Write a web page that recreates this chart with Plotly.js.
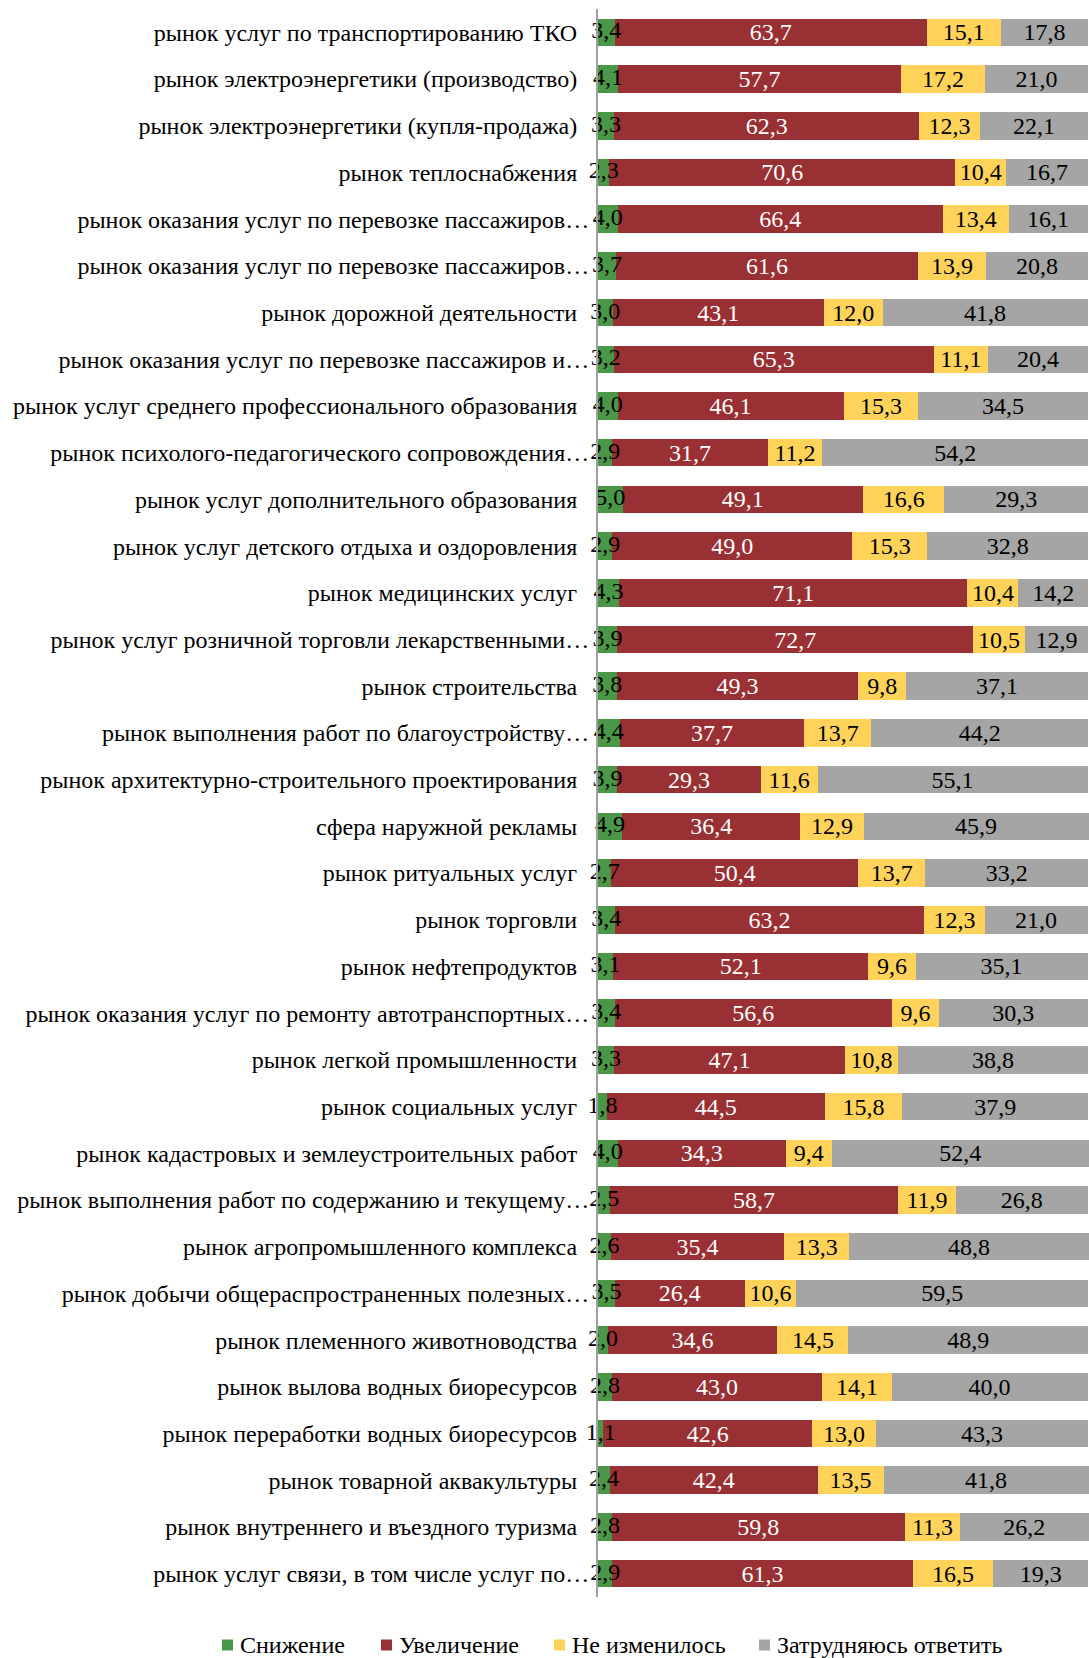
<!DOCTYPE html>
<html>
<head>
<meta charset="utf-8">
<script src="https://cdn.plot.ly/plotly-3.0.1.min.js"></script>
<style>
  html, body { margin: 0; padding: 0; background: #ffffff; }
  #chart { width: 1089px; height: 1658px; }
</style>
</head>
<body>
<div id="chart"></div>
<script>
// Categories, top to bottom ("…" marks labels truncated in the original)
const categories = [
  "рынок услуг по транспортированию ТКО",
  "рынок электроэнергетики (производство)",
  "рынок электроэнергетики (купля-продажа)",
  "рынок теплоснабжения",
  "рынок оказания услуг по перевозке пассажиров…",
  "рынок оказания услуг по перевозке пассажиров…",
  "рынок дорожной деятельности",
  "рынок оказания услуг по перевозке пассажиров и…",
  "рынок услуг среднего профессионального образования",
  "рынок психолого-педагогического сопровождения…",
  "рынок услуг дополнительного образования",
  "рынок услуг детского отдыха и оздоровления",
  "рынок медицинских услуг",
  "рынок услуг розничной торговли лекарственными…",
  "рынок строительства",
  "рынок выполнения работ по благоустройству…",
  "рынок архитектурно-строительного проектирования",
  "сфера наружной рекламы",
  "рынок ритуальных услуг",
  "рынок торговли",
  "рынок нефтепродуктов",
  "рынок оказания услуг по ремонту автотранспортных…",
  "рынок легкой промышленности",
  "рынок социальных услуг",
  "рынок кадастровых и землеустроительных работ",
  "рынок выполнения работ по содержанию и текущему…",
  "рынок агропромышленного комплекса",
  "рынок добычи общераспространенных полезных…",
  "рынок племенного животноводства",
  "рынок вылова водных биоресурсов",
  "рынок переработки водных биоресурсов",
  "рынок товарной аквакультуры",
  "рынок внутреннего и въездного туризма",
  "рынок услуг связи, в том числе услуг по…"
];

const decrease = [3.4, 4.1, 3.3, 2.3, 4.0, 3.7, 3.0, 3.2, 4.0, 2.9, 5.0, 2.9, 4.3, 3.9, 3.8, 4.4, 3.9, 4.9, 2.7, 3.4, 3.1, 3.4, 3.3, 1.8, 4.0, 2.5, 2.6, 3.5, 2.0, 2.8, 1.1, 2.4, 2.8, 2.9];
const increase = [63.7, 57.7, 62.3, 70.6, 66.4, 61.6, 43.1, 65.3, 46.1, 31.7, 49.1, 49.0, 71.1, 72.7, 49.3, 37.7, 29.3, 36.4, 50.4, 63.2, 52.1, 56.6, 47.1, 44.5, 34.3, 58.7, 35.4, 26.4, 34.6, 43.0, 42.6, 42.4, 59.8, 61.3];
const unchanged = [15.1, 17.2, 12.3, 10.4, 13.4, 13.9, 12.0, 11.1, 15.3, 11.2, 16.6, 15.3, 10.4, 10.5, 9.8, 13.7, 11.6, 12.9, 13.7, 12.3, 9.6, 9.6, 10.8, 15.8, 9.4, 11.9, 13.3, 10.6, 14.5, 14.1, 13.0, 13.5, 11.3, 16.5];
const hardToSay = [17.8, 21.0, 22.1, 16.7, 16.1, 20.8, 41.8, 20.4, 34.5, 54.2, 29.3, 32.8, 14.2, 12.9, 37.1, 44.2, 55.1, 45.9, 33.2, 21.0, 35.1, 30.3, 38.8, 37.9, 52.4, 26.8, 48.8, 59.5, 48.9, 40.0, 43.3, 41.8, 26.2, 19.3];

const seriesNames = ["Снижение", "Увеличение", "Не изменилось", "Затрудняюсь ответить"];
const seriesColors = ["#4a9847", "#993033", "#ffd35a", "#a5a5a5"];
const labelColors = ["#000000", "#ffffff", "#000000", "#000000"];
const seriesValues = [decrease, increase, unchanged, hardToSay];

const positions = categories.map((_, i) => i);
// Non-truncated labels keep a gap before the axis, truncated ones run closer to it
const tickText = categories.map(c => c.endsWith("…") ? c : c + "\u00a0\u00a0");

const FONT = "'Liberation Serif', 'Times New Roman', serif";
const FS = 24;

const W = 1089, H = 1658;
const M = { l: 598, r: 0, t: 9, b: 61 };
const plotW = W - M.l - M.r, plotH = H - M.t - M.b;
const pxX = px => (px - M.l) / plotW;
const pxY = py => (H - M.b - py) / plotH;

const fmt = v => v.toFixed(1).replace(".", ",");

const traces = seriesValues.map((vals, k) => ({
  type: "bar",
  orientation: "h",
  name: seriesNames[k],
  x: vals,
  y: positions,
  marker: { color: seriesColors[k], line: { width: 0 } },
  text: k === 0 ? null : vals.map(fmt),
  textposition: k === 0 ? "none" : "inside",
  insidetextanchor: "middle",
  constraintext: "none",
  textangle: 0,
  insidetextfont: { family: FONT, size: FS, color: labelColors[k] },
  cliponaxis: false,
  hoverinfo: "x+name"
}));

// Labels of the narrow "Снижение" segments, drawn on top so they can overflow the bar
traces.push({
  type: "scatter",
  mode: "text",
  x: decrease.map(v => v / 2),
  y: positions,
  text: decrease.map(fmt),
  textposition: "middle center",
  textfont: { family: FONT, size: FS, color: "#000000" },
  cliponaxis: false,
  showlegend: false,
  hoverinfo: "skip"
});

// Legend (Excel style: small swatch right next to its label)
const legendSwatchLeft = [222, 381, 554, 759];
const legendCenterY = 1645;
const swatch = 11;
const shapes = seriesNames.map((n, k) => ({
  type: "rect",
  xref: "paper", yref: "paper",
  x0: pxX(legendSwatchLeft[k]), x1: pxX(legendSwatchLeft[k] + swatch),
  y0: pxY(legendCenterY + swatch / 2), y1: pxY(legendCenterY - swatch / 2),
  fillcolor: seriesColors[k],
  line: { width: 0 }
}));
const annotations = seriesNames.map((n, k) => ({
  xref: "paper", yref: "paper",
  x: pxX(legendSwatchLeft[k] + swatch + 5),
  y: pxY(legendCenterY),
  xanchor: "left", yanchor: "middle",
  text: n,
  showarrow: false,
  font: { family: FONT, size: FS, color: "#000000" }
}));

const layout = {
  width: W,
  height: H,
  barmode: "stack",
  bargap: 0.41,
  paper_bgcolor: "#ffffff",
  plot_bgcolor: "#ffffff",
  font: { family: FONT, size: FS, color: "#000000" },
  margin: { l: M.l, r: M.r, t: M.t, b: M.b, pad: 0, autoexpand: false },
  showlegend: false,
  shapes: shapes,
  annotations: annotations,
  xaxis: {
    range: [0, 100.2],
    showgrid: false,
    zeroline: false,
    showline: false,
    showticklabels: false,
    ticks: "",
    fixedrange: true
  },
  yaxis: {
    range: [categories.length - 0.5, -0.5],
    tickmode: "array",
    tickvals: positions,
    ticktext: tickText,
    showgrid: false,
    zeroline: false,
    showline: true,
    linecolor: "#a0a0a0",
    linewidth: 2,
    ticks: "",
    ticklabelstandoff: 2,
    tickfont: { family: FONT, size: FS, color: "#000000" },
    automargin: false,
    fixedrange: true
  }
};

Plotly.newPlot("chart", traces, layout, { displayModeBar: false, staticPlot: true });
</script>
</body>
</html>
